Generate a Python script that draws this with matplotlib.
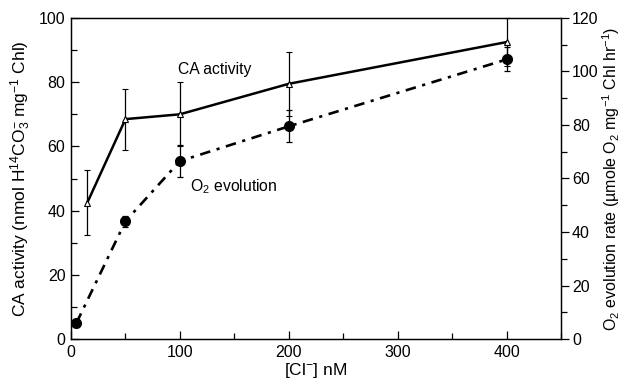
import matplotlib
matplotlib.use("Agg")
import matplotlib.pyplot as plt
from matplotlib.ticker import MultipleLocator

plt.rcParams['font.family'] = ['Liberation Sans', 'DejaVu Sans']
plt.rcParams['mathtext.fontset'] = 'custom'
plt.rcParams['mathtext.rm'] = 'Liberation Sans'
plt.rcParams['mathtext.it'] = 'Liberation Sans'

ca_x = [15, 50, 100, 200, 400]
ca_y = [42.5, 68.5, 70, 79.5, 92.5]
ca_err = [10, 9.5, 10, 10, 7.5]

o2_x = [5, 50, 100, 200, 400]
o2_y = [6, 44, 66.5, 79.5, 104.5]
o2_err = [0, 2, 6, 6, 4.5]

fig = plt.figure(figsize=(6.23, 3.82), dpi=100)
ax = fig.add_axes([71/623, 1-339/382, (561-71)/623, (339-18)/382])
ax2 = ax.twinx()

ax.errorbar(ca_x, ca_y, yerr=ca_err, color='black', lw=1.8, marker='^', ms=5,
            mfc='white', mec='black', mew=0.8, elinewidth=0.9, capsize=2.5, capthick=0.9,
            clip_on=False, zorder=3)
ax2.errorbar(o2_x, o2_y, yerr=o2_err, color='black', lw=1.9, ls=(0, (4, 2.5, 1.2, 2.5)),
             marker='o', ms=7, mfc='black', mec='black', elinewidth=0.9, capsize=2.5,
             capthick=0.9, zorder=3)

ax.set_xlim(0, 450)
ax.set_ylim(0, 100)
ax2.set_ylim(0, 120)

ax.xaxis.set_major_locator(MultipleLocator(100))
ax.xaxis.set_minor_locator(MultipleLocator(50))
ax.yaxis.set_major_locator(MultipleLocator(20))
ax.yaxis.set_minor_locator(MultipleLocator(10))
ax2.yaxis.set_major_locator(MultipleLocator(20))
ax2.yaxis.set_minor_locator(MultipleLocator(10))

ax.tick_params(axis='both', which='major', direction='in', length=6, width=0.9, labelsize=11.5, top=False, pad=4)
ax.tick_params(axis='both', which='minor', direction='in', length=4, width=0.9, top=False)
ax.tick_params(axis='y', right=False)
ax2.tick_params(axis='y', which='major', direction='out', length=6, width=0.9, labelsize=11.5, pad=2)
ax2.tick_params(axis='y', which='minor', direction='out', length=4, width=0.9)

for a in (ax, ax2):
    for s in a.spines.values():
        s.set_linewidth(0.9)

ax.set_xlabel('[Cl$^{-}$] nM', fontsize=12.5, labelpad=1)
ax.set_ylabel('CA activity (nmol H$^{14}$CO$_3^{-}$ mg$^{-1}$ Chl)', fontsize=12.5, labelpad=4)
ax2.set_ylabel('O$_2$ evolution rate (µmole O$_2$ mg$^{-1}$ Chl hr$^{-1}$)', fontsize=11.5, labelpad=1)

ax.text(98, 84, 'CA activity', fontsize=11.3, va='center', ha='left')
ax.text(109, 47.5, 'O$_2$ evolution', fontsize=11.3, va='center', ha='left')

fig.savefig('out.png', dpi=100)
